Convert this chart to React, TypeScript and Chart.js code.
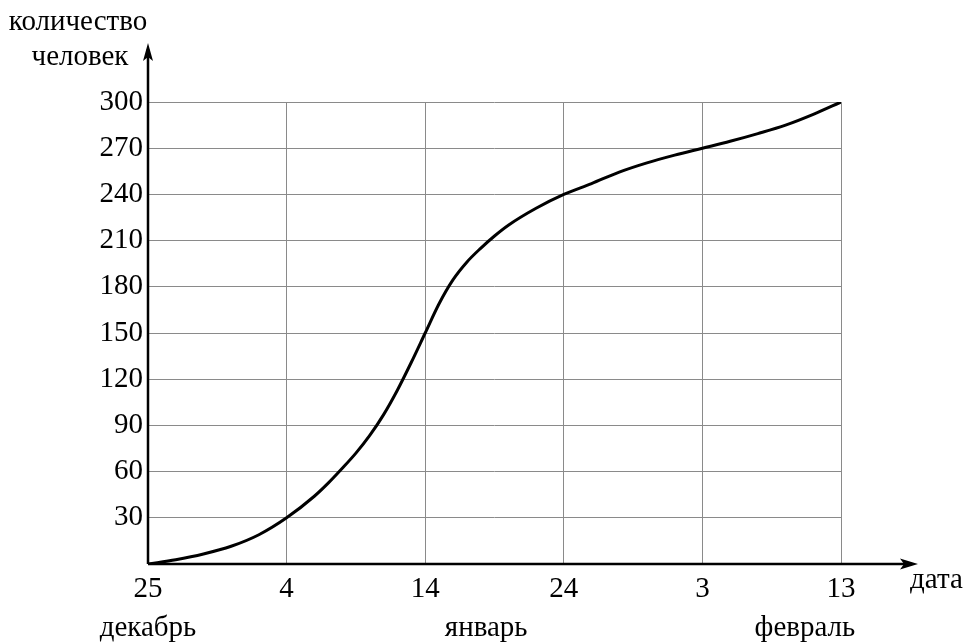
import React, { useEffect, useRef } from "react";
import { Chart, registerables } from "chart.js";

Chart.register(...registerables);

const days = [0, 2, 4, 6, 8, 10, 12, 13, 14, 15, 16, 17, 18, 19, 20, 21, 22, 23, 24, 25, 26, 28, 30, 32, 34, 36, 38, 40, 42, 44, 46, 48, 50];
const people = [0, 2.8, 6.5, 11.5, 19, 30, 44, 52.5, 62, 72, 83.5, 97, 113, 131, 150, 169, 184.5, 196, 205, 213, 220, 231, 240, 247, 254.5, 260.5, 265.5, 270, 274.5, 279.5, 285, 292, 300];
const xTickLabels = ["25", "4", "14", "24", "3", "13"];
const monthLabels = ["декабрь", "январь", "февраль"];
const monthDay = [0, 24.4, 47.4];
const yTitle = ["количество", "человек"];
const xTitle = "дата";

const FONT = "'Liberation Serif', 'Times New Roman', serif";
const FS = 29;

const axesPlugin = {
  id: "axesArrows",
  afterDraw(chart: any) {
    const { ctx, chartArea } = chart;
    const xs = chart.scales.x;
    const left = chartArea.left;
    const bottom = chartArea.bottom;
    ctx.save();
    ctx.strokeStyle = "#000";
    ctx.fillStyle = "#000";
    ctx.lineWidth = 2.5;
    // y axis
    const yTop = chartArea.top - 59;
    ctx.beginPath();
    ctx.moveTo(left, bottom);
    ctx.lineTo(left, yTop + 6);
    ctx.stroke();
    ctx.beginPath();
    ctx.moveTo(left, yTop);
    ctx.lineTo(left - 5, yTop + 18);
    ctx.lineTo(left, yTop + 14);
    ctx.lineTo(left + 5, yTop + 18);
    ctx.closePath();
    ctx.fill();
    // x axis
    const xEnd = chartArea.right + 77;
    ctx.beginPath();
    ctx.moveTo(left, bottom);
    ctx.lineTo(xEnd - 6, bottom);
    ctx.stroke();
    ctx.beginPath();
    ctx.moveTo(xEnd, bottom);
    ctx.lineTo(xEnd - 18, bottom - 5.5);
    ctx.lineTo(xEnd - 14, bottom);
    ctx.lineTo(xEnd - 18, bottom + 5.5);
    ctx.closePath();
    ctx.fill();

    ctx.font = `${FS}px ${FONT}`;
    ctx.textBaseline = "middle";
    ctx.textAlign = "center";
    ctx.fillText(yTitle[0], left - 70, chartArea.top - 80);
    ctx.fillText(yTitle[1], left - 68, chartArea.top - 45);
    ctx.textAlign = "left";
    ctx.fillText(xTitle, chartArea.right + 69, bottom + 16);
    ctx.textAlign = "center";
    monthLabels.forEach((m, i) => {
      ctx.fillText(m, xs.getPixelForValue(monthDay[i]), bottom + 64);
    });
    ctx.restore();
  },
};

export default function App() {
  const ref = useRef<HTMLCanvasElement | null>(null);
  useEffect(() => {
    if (!ref.current) return;
    const chart = new Chart(ref.current, {
      type: "line",
      data: {
        datasets: [
          {
            data: days.map((d, i) => ({ x: d, y: people[i] })),
            borderColor: "#000",
            borderWidth: 3,
            pointRadius: 0,
            cubicInterpolationMode: "monotone",
            fill: false,
          },
        ],
      },
      options: {
        animation: false,
        responsive: false,
        maintainAspectRatio: false,
        layout: { padding: { top: 102, right: 122, left: 0, bottom: 0 } },
        plugins: { legend: { display: false }, tooltip: { enabled: false } },
        scales: {
          x: {
            type: "linear",
            min: 0,
            max: 50,
            afterFit: (s: any) => {
              s.height = 78;
            },
            border: { display: false },
            grid: { color: "#8a8a8a", lineWidth: 1, drawTicks: false },
            ticks: {
              stepSize: 10,
              padding: 8,
              color: "#000",
              font: { family: FONT, size: FS },
              maxRotation: 0,
              callback: (_v: any, i: number) => xTickLabels[i],
            },
          },
          y: {
            min: 0,
            max: 300,
            afterFit: (s: any) => {
              s.width = 148;
            },
            border: { display: false },
            grid: { color: "#8a8a8a", lineWidth: 1, drawTicks: false },
            ticks: {
              stepSize: 30,
              padding: 5,
              color: "#000",
              font: { family: FONT, size: FS },
              callback: (v: any) => (v === 0 ? "" : String(v)),
            },
          },
        },
      },
      plugins: [axesPlugin],
    });
    return () => chart.destroy();
  }, []);
  return (
    <div style={{ position: "fixed", left: 0, top: 0, width: 963, height: 642, background: "#fff" }}>
      <canvas ref={ref} width={963} height={642} />
    </div>
  );
}
